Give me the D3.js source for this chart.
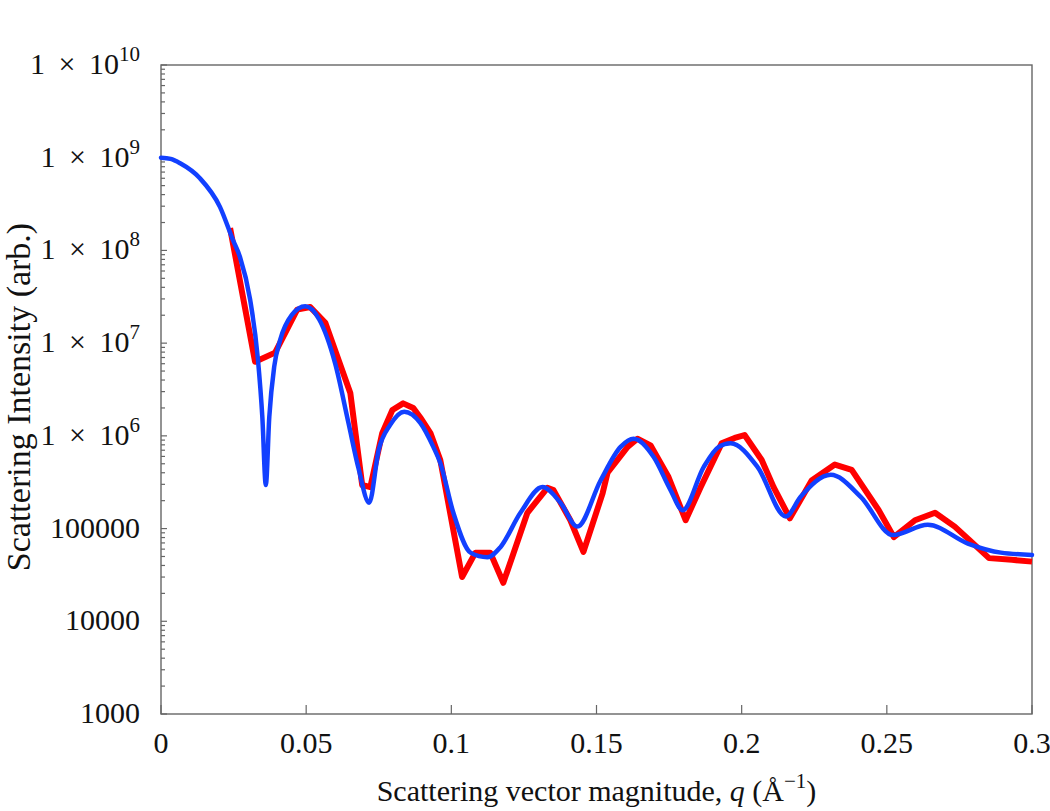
<!DOCTYPE html>
<html>
<head>
<meta charset="utf-8">
<script src="https://cdn.jsdelivr.net/npm/d3@7"></script>
<style>
  body { margin: 0; background: #fff; }
  svg { display: block; font-family: "Liberation Serif", "DejaVu Serif", serif; }
</style>
</head>
<body>
<svg id="chart" width="1050" height="811"></svg>
<script>
// model curve (blue): q in 1/Å, intensity
const modelQ = [0, 0.0033, 0.0066, 0.0134, 0.0203, 0.0248, 0.0272, 0.0307, 0.0334, 0.0349, 0.0361, 0.0373, 0.0390,
  0.0410, 0.0450, 0.0497, 0.0545, 0.0600, 0.0645, 0.0680, 0.0717, 0.0750, 0.0790, 0.0838, 0.0893, 0.0938, 0.0962,
  0.1007, 0.1066, 0.1124, 0.1169, 0.1238, 0.1314, 0.1376, 0.1434, 0.1514, 0.1583, 0.1628, 0.1697, 0.1755, 0.1797,
  0.1869, 0.1921, 0.1962, 0.2055, 0.2152, 0.2203, 0.2307, 0.2410, 0.2521, 0.2641, 0.2779, 0.2893, 0.3000];
const modelI = [1.0e9, 9.7e8, 8.7e8, 6.0e8, 2.95e8, 1.29e8, 8.5e7, 2.95e7, 6.6e6, 1.6e6, 2.95e5, 1.6e6, 5.6e6,
  1.07e7, 2.0e7, 2.5e7, 1.8e7, 6.0e6, 1.41e6, 4.5e5, 1.9e5, 7.1e5, 1.32e6, 1.82e6, 1.38e6, 7.6e5, 5.1e5,
  1.48e5, 5.5e4, 4.9e4, 6.3e4, 1.48e5, 2.8e5, 1.9e5, 1.05e5, 3.3e5, 7.6e5, 9.3e5, 5.9e5, 2.6e5, 1.58e5,
  4.6e5, 7.6e5, 8.3e5, 4.6e5, 1.35e5, 2.2e5, 3.8e5, 2.2e5, 8.5e4, 1.1e5, 6.9e4, 5.5e4, 5.2e4];

// measured data (red)
const dataQ = [0.0238, 0.0324, 0.0393, 0.0469, 0.0514, 0.0566, 0.0652, 0.0693, 0.0721, 0.0762, 0.0797, 0.0834,
  0.0869, 0.0893, 0.0928, 0.0962, 0.1037, 0.1083, 0.1134, 0.1179, 0.1262, 0.1331, 0.1352, 0.1410, 0.1455, 0.1521,
  0.1538, 0.1607, 0.1641, 0.1686, 0.1748, 0.1807, 0.1859, 0.1931, 0.1976, 0.2010, 0.2069, 0.2110, 0.2166, 0.2241,
  0.2321, 0.2379, 0.2472, 0.2524, 0.2597, 0.2666, 0.2734, 0.2783, 0.2852, 0.2931, 0.3000];
const dataI = [1.74e8, 6.3e6, 7.9e6, 2.3e7, 2.45e7, 1.66e7, 2.9e6, 2.95e5, 2.8e5, 1.07e6, 1.9e6, 2.24e6,
  2.0e6, 1.58e6, 1.07e6, 5.5e5, 3.0e4, 5.5e4, 5.5e4, 2.6e4, 1.48e5, 2.75e5, 2.6e5, 1.23e5, 5.6e4, 2.4e5,
  4.0e5, 7.6e5, 9.3e5, 7.9e5, 3.6e5, 1.23e5, 2.8e5, 8.3e5, 9.5e5, 1.02e6, 5.5e5, 2.8e5, 1.29e5, 3.3e5,
  4.9e5, 4.3e5, 1.58e5, 8.1e4, 1.23e5, 1.48e5, 1.05e5, 7.6e4, 4.8e4, 4.6e4, 4.4e4];

const xTicks = [0, 0.05, 0.1, 0.15, 0.2, 0.25, 0.3];
const xTickLabels = ["0", "0.05", "0.1", "0.15", "0.2", "0.25", "0.3"];
const yTicks = [1e3, 1e4, 1e5, 1e6, 1e7, 1e8, 1e9, 1e10];
const yTickLabels = ["1000", "10000", "100000", "1 × 10^6", "1 × 10^7", "1 × 10^8", "1 × 10^9", "1 × 10^10"];

const width = 1050, height = 811;
const margin = {top: 65, right: 18, bottom: 97, left: 161};
const axisColor = "#666";

const x = d3.scaleLinear().domain([0, 0.3]).range([margin.left, width - margin.right]);
const y = d3.scaleLog().domain([1e3, 1e10]).range([height - margin.bottom, margin.top]);

const svg = d3.select("#chart");

// frame
svg.append("rect")
    .attr("x", margin.left)
    .attr("y", margin.top)
    .attr("width", width - margin.left - margin.right)
    .attr("height", height - margin.top - margin.bottom)
    .attr("fill", "none")
    .attr("stroke", axisColor)
    .attr("stroke-width", 1.4);

// y ticks (major + minor), inward on the left edge
const yAll = y.ticks();
svg.append("g")
  .selectAll("line")
  .data(yAll)
  .join("line")
    .attr("x1", margin.left)
    .attr("x2", d => margin.left + (yTicks.includes(d) ? 6 : 4))
    .attr("y1", d => y(d))
    .attr("y2", d => y(d))
    .attr("stroke", axisColor)
    .attr("stroke-width", 1.2);

// x ticks, inward on bottom edge
svg.append("g")
  .selectAll("line")
  .data(xTicks)
  .join("line")
    .attr("x1", d => x(d))
    .attr("x2", d => x(d))
    .attr("y1", height - margin.bottom)
    .attr("y2", height - margin.bottom - 9)
    .attr("stroke", axisColor)
    .attr("stroke-width", 1.2);

// x tick labels
svg.append("g")
  .selectAll("text")
  .data(xTicks)
  .join("text")
    .attr("x", d => x(d))
    .attr("y", height - margin.bottom + 39)
    .attr("text-anchor", "middle")
    .attr("font-size", 30)
    .attr("fill", "#111")
    .text((d, i) => xTickLabels[i]);

// y tick labels
const yl = svg.append("g")
  .selectAll("text")
  .data(yTicks)
  .join("text")
    .attr("x", margin.left - 21)
    .attr("y", d => y(d) + 9)
    .attr("text-anchor", "end")
    .attr("font-size", 30)
    .attr("fill", "#111");
yl.each(function(d, i) {
  const parts = yTickLabels[i].split("^");
  const t = d3.select(this);
  t.append("tspan").text(parts[0].replace(" × ", "\u2009 × \u2009"));
  if (parts[1]) t.append("tspan").attr("dy", -13).attr("font-size", 21).text(parts[1]);
});

// axis titles
const xt = svg.append("text")
    .attr("x", (margin.left + width - margin.right) / 2)
    .attr("y", 801)
    .attr("text-anchor", "middle")
    .attr("font-size", 30)
    .attr("fill", "#111");
xt.append("tspan").text("Scattering vector magnitude, ");
xt.append("tspan").attr("font-style", "italic").text("q");
xt.append("tspan").text(" (Å");
xt.append("tspan").attr("dy", -13).attr("font-size", 21).text("−1");
xt.append("tspan").attr("dy", 13).text(")");

svg.append("text")
    .attr("transform", "translate(30,397) rotate(-90)")
    .attr("text-anchor", "middle")
    .attr("font-size", 34)
    .attr("fill", "#111")
    .text("Scattering Intensity (arb.)");

// curves
const dataPts = dataQ.map((q, i) => [q, dataI[i]]);
const modelPts = modelQ.map((q, i) => [q, modelI[i]]);

svg.append("path")
    .datum(dataPts)
    .attr("fill", "none")
    .attr("stroke", "#ff0000")
    .attr("stroke-width", 6)
    .attr("stroke-linejoin", "round")
    .attr("d", d3.line().x(d => x(d[0])).y(d => y(d[1])));

svg.append("path")
    .datum(modelPts)
    .attr("fill", "none")
    .attr("stroke", "#1240ff")
    .attr("stroke-width", 4.5)
    .attr("stroke-linejoin", "round")
    .attr("stroke-linecap", "round")
    .attr("d", d3.line().curve(d3.curveMonotoneX).x(d => x(d[0])).y(d => y(d[1])));
</script>
</body>
</html>
